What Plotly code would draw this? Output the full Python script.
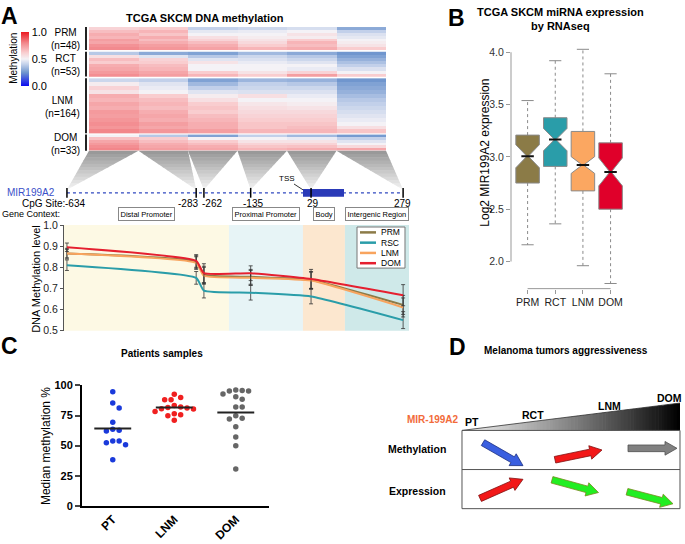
import math
import numpy as np
import plotly.graph_objects as go

W, H = 685, 544
FONT = "Liberation Sans, Arial, Helvetica, sans-serif"


def px(x):
    return x / W


def py(y):
    return 1 - y / H


# ======================= DATA =======================
# ---- Panel A: heatmap (bands read top -> bottom, one list per CpG column)
hm_groups = ["PRM", "RCT", "LNM", "DOM"]
hm_n = [48, 53, 164, 33]
cpg_sites = [-634, -283, -262, -135, 29, 279]
cpg_labels = ["-634", "-283", "-262", "-135", "29", "279"]

hm_PRM = [
    [0.60, 0.66, 0.70, 0.68, 0.74, 0.72, 0.77, 0.79],
    [0.62, 0.68, 0.64, 0.70, 0.66, 0.70, 0.74, 0.76],
    [0.40, 0.47, 0.50, 0.56, 0.60, 0.66, 0.70, 0.73],
    [0.42, 0.48, 0.50, 0.52, 0.55, 0.58, 0.62, 0.68],
    [0.44, 0.50, 0.55, 0.52, 0.62, 0.68, 0.66, 0.70],
    [0.30, 0.40, 0.45, 0.47, 0.50, 0.52, 0.55, 0.62],
]
hm_RCT = [
    [0.38, 0.56, 0.66, 0.62, 0.70, 0.72, 0.75, 0.78],
    [0.30, 0.46, 0.60, 0.62, 0.66, 0.68, 0.72, 0.74],
    [0.28, 0.38, 0.46, 0.55, 0.50, 0.50, 0.62, 0.68],
    [0.34, 0.42, 0.45, 0.48, 0.50, 0.50, 0.55, 0.62],
    [0.30, 0.38, 0.42, 0.46, 0.50, 0.48, 0.60, 0.74],
    [0.25, 0.28, 0.32, 0.36, 0.40, 0.45, 0.50, 0.62],
]
hm_LNM = [
    [0.42, 0.52, 0.60, 0.55, 0.70, 0.68, 0.72, 0.70, 0.75, 0.74, 0.76, 0.78, 0.76, 0.80],
    [0.40, 0.46, 0.48, 0.50, 0.62, 0.66, 0.68, 0.66, 0.70, 0.72, 0.70, 0.74, 0.72, 0.76],
    [0.28, 0.34, 0.40, 0.46, 0.52, 0.56, 0.62, 0.64, 0.62, 0.66, 0.68, 0.70, 0.70, 0.74],
    [0.33, 0.40, 0.42, 0.45, 0.56, 0.50, 0.54, 0.56, 0.58, 0.60, 0.62, 0.64, 0.64, 0.68],
    [0.32, 0.38, 0.42, 0.45, 0.48, 0.50, 0.52, 0.55, 0.58, 0.60, 0.62, 0.64, 0.66, 0.68],
    [0.25, 0.28, 0.30, 0.32, 0.35, 0.38, 0.40, 0.42, 0.44, 0.46, 0.48, 0.50, 0.56, 0.64],
]
hm_DOM = [
    [0.50, 0.65, 0.72, 0.75, 0.78, 0.80],
    [0.38, 0.62, 0.66, 0.70, 0.72, 0.74],
    [0.28, 0.50, 0.62, 0.66, 0.70, 0.72],
    [0.40, 0.50, 0.55, 0.60, 0.64, 0.68],
    [0.34, 0.48, 0.55, 0.60, 0.65, 0.70],
    [0.26, 0.40, 0.46, 0.50, 0.58, 0.72],
]

# ---- Panel A: methylation profile lines
line_names = ["PRM", "RSC", "LNM", "DOM"]
meth_PRM = [0.865, 0.825, 0.765, 0.755, 0.740, 0.622]
meth_RSC = [0.810, 0.750, 0.690, 0.680, 0.662, 0.550]
meth_LNM = [0.865, 0.820, 0.760, 0.750, 0.737, 0.610]
meth_DOM = [0.895, 0.830, 0.772, 0.772, 0.745, 0.668]
sd_PRM = [0.025, 0.030, 0.040, 0.035, 0.040, 0.045]
sd_RSC = [0.025, 0.030, 0.035, 0.035, 0.035, 0.040]
sd_LNM = [0.020, 0.030, 0.040, 0.035, 0.040, 0.045]
sd_DOM = [0.020, 0.030, 0.045, 0.035, 0.045, 0.050]
regions = ["Distal Promoter", "Proximal Promoter", "Body", "Intergenic Region"]
region_edges = [-642, -194, 7, 121, 295]

# ---- Panel B: notched boxplots
box_groups = ["PRM", "RCT", "LNM", "DOM"]
box_lower = [2.16, 2.36, 1.96, 1.79]
box_q1 = [2.750, 2.909, 2.675, 2.500]
box_median = [3.006, 3.165, 2.922, 2.856]
box_q3 = [3.208, 3.374, 3.243, 3.134]
box_upper = [3.538, 3.919, 4.028, 3.794]
box_notch = [0.110, 0.107, 0.080, 0.133]

# ---- Panel C: patient samples
c_groups = ["PT", "LNM", "DOM"]
pt_vals = [94.8, 85.3, 81.2, 69.4, 63.5, 62.7, 62.1, 53.9, 53.9, 52.3, 50.7, 38.2]
lnm_vals = [92.6, 89.9, 88.0, 88.0, 83.3, 82.0, 81.7, 81.2, 80.7, 80.4, 78.4, 76.5, 75.7, 74.9, 71.1]
dom_vals = [96.2, 95.7, 95.3, 95.3, 92.9, 90.7, 88.6, 82.0, 82.0, 74.9, 72.8, 72.2, 65.7, 57.2, 49.8, 30.5]
c_medians = [64.3, 81.7, 77.6]

# ---- Panel D labels
stages = ["PT", "RCT", "LNM", "DOM"]

# ======================= FIGURE =======================
fig = go.Figure()
shapes = []
annotations = []


def text(x, y, s, size=10, color="black", xanchor="center", yanchor="middle", angle=0, **kw):
    annotations.append(dict(x=px(x), y=py(y), xref="paper", yref="paper", text=s, showarrow=False,
                            font=dict(family=FONT, size=size, color=color), xanchor=xanchor,
                            yanchor=yanchor, textangle=angle, **kw))


def line(x0, y0, x1, y1, color="black", width=1, dash=None, layer="above"):
    ln = dict(color=color, width=width)
    if dash:
        ln["dash"] = dash
    shapes.append(dict(type="line", xref="paper", yref="paper", x0=px(x0), y0=py(y0),
                       x1=px(x1), y1=py(y1), line=ln, layer=layer))


def poly(pts, fill, lc=None, lw=0, layer="above"):
    path = "M " + " L ".join(f"{px(x):.5f},{py(y):.5f}" for x, y in pts) + " Z"
    shapes.append(dict(type="path", xref="paper", yref="paper", path=path, fillcolor=fill,
                       line=dict(color=lc or fill, width=lw), layer=layer))


# ---------- Panel A heatmap ----------
hm_colorscale = [[0.0, "#0A0AF0"], [0.25, "#7096CE"], [0.4, "#C2D0EA"], [0.5, "#F4F2F6"],
                 [0.62, "#F9CDCF"], [0.8, "#F2868A"], [1.0, "#EC1A22"]]
hm_data = {"PRM": hm_PRM, "RCT": hm_RCT, "LNM": hm_LNM, "DOM": hm_DOM}
hm_spans = [(21.5, 45.0), (46.8, 72.0), (74.0, 130.0), (131.5, 148.0)]  # pixel rows of groups
for gi, g in enumerate(hm_groups):
    z = np.array(hm_data[g]).T
    top, bot = hm_spans[gi]
    dy = (bot - top) / z.shape[0]
    fig.add_trace(go.Heatmap(
        z=z, x0=0, dx=1, y0=top + dy / 2, dy=dy, xaxis="x", yaxis="y",
        colorscale=hm_colorscale, zmin=0, zmax=1, showscale=(gi == 0), hoverinfo="skip",
        colorbar=dict(x=px(21), xanchor="left", y=py(54), yanchor="middle", thickness=8,
                      len=54, lenmode="pixels", tickvals=[0, 0.5, 1], ticktext=["0.0", "0.5", "1.0"],
                      ticks="", outlinewidth=0, xpad=0, ypad=0,
                      tickfont=dict(family=FONT, size=11, color="black")),
    ))
    # group label + bar
    text(82, (top + bot) / 2 + 1, f"{g}<br>(n={hm_n[gi]})", size=10, xanchor="right")
    line(86, top, 86, bot, color="#222", width=2)

text(205, 12, "<b>TCGA SKCM DNA methylation</b>", size=11)
text(14, 54, "Methylation", size=10, angle=-90)

# ---------- Panel A line chart ----------
LX0, LX1 = 64, 409


def site_px(s):
    return LX0 + (s - region_edges[0]) * (LX1 - LX0) / (region_edges[-1] - region_edges[0])


region_colors = ["#FDF9E4", "#E7F4F6", "#FCE7CF", "#CFE9E9"]
for i in range(len(regions)):
    shapes.append(dict(type="rect", xref="x2", yref="y2 domain", x0=region_edges[i],
                       x1=region_edges[i + 1], y0=0, y1=1, fillcolor=region_colors[i],
                       line=dict(width=0), layer="below"))

line_colors = ["#8C7B48", "#2A9DA9", "#F8A45E", "#E51F2F"]
line_vals = [meth_PRM, meth_RSC, meth_LNM, meth_DOM]
line_sds = [sd_PRM, sd_RSC, sd_LNM, sd_DOM]
for name, vals, sd, col in zip(line_names, line_vals, line_sds, line_colors):
    fig.add_trace(go.Scatter(
        x=cpg_sites, y=vals, mode="lines", name=name, xaxis="x2", yaxis="y2",
        line=dict(color=col, width=2, shape="spline", smoothing=0.45),
        error_y=dict(type="data", array=sd, color="#333", thickness=0.8, width=2),
        showlegend=False, hoverinfo="skip"))

# custom legend
poly([(357, 226), (405, 226), (405, 268), (357, 268)], "white", lc="#777", lw=1)
for i, (name, col) in enumerate(zip(line_names, line_colors)):
    yy = 231.5 + i * 10.5
    line(360, yy, 376, yy, color=col, width=2.5)
    text(379, yy, name, size=8.5, xanchor="left")

text(36, 279, "DNA Methylation level", size=11, angle=-90)

# ---------- gene diagram ----------
GENE_Y = 191
HM_X0, HM_X1, HM_BOT = 89, 386, 148
col_edges = [HM_X0 + k * (HM_X1 - HM_X0) / 6 for k in range(7)]
TIP_Y = 188
n_sl = 12
for i, s in enumerate(cpg_sites):
    p = site_px(s)
    xa, xb = col_edges[i], col_edges[i + 1]
    for k in range(n_sl):
        t0, t1 = k / n_sl, min(1, (k + 1.15) / n_sl)
        ya, yb = HM_BOT + (TIP_Y - HM_BOT) * t0, HM_BOT + (TIP_Y - HM_BOT) * t1
        lvl = int(150 + (245 - 150) * (k + 0.5) / n_sl)
        c = f"rgb({lvl},{lvl},{lvl})"
        poly([(xa + (p - xa) * t0, ya), (xb + (p - xb) * t0, ya),
              (xb + (p - xb) * t1, yb), (xa + (p - xa) * t1, yb)], c)

line(site_px(cpg_sites[0]), GENE_Y, site_px(cpg_sites[-1]), GENE_Y, color="#3048C0", width=1.2, dash="dot")
poly([(303, 187), (344, 187), (344, 195), (303, 195)], "#2A3AB8")
for s in cpg_sites:
    line(site_px(s), 186, site_px(s), 196, color="black", width=1.5)
text(57, GENE_Y, "MIR199A2", size=10, color="#3A50C8", xanchor="right")
text(287, 176, "TSS", size=8)
line(294, 182, 303, 188, color="black", width=0.8)
text(67, 201.5, "CpG Site:", size=10, xanchor="right")
label_shift = [8, -8, 8, 2, 2, -1]
for s, lab, sh in zip(cpg_sites, cpg_labels, label_shift):
    text(site_px(s) + sh, 201.5, lab, size=10)
text(0, 212.5, "Gene Context:", size=9, xanchor="left")
for i, r in enumerate(regions):
    cx = (site_px(region_edges[i]) + site_px(region_edges[i + 1])) / 2
    text(cx, 212.5, r, size=7.5, bordercolor="#888", borderwidth=1, borderpad=1.5, bgcolor="white")

# ---------- Panel B boxplots ----------
box_colors = ["#8B7B47", "#2A9DA9", "#FBA761", "#E0002A"]
BW, NW = 0.85, 0.47
for i, g in enumerate(box_groups):
    fig.add_trace(go.Box(
        x=[i], q1=[box_q1[i]], median=[box_median[i]], q3=[box_q3[i]],
        lowerfence=[box_q1[i]], upperfence=[box_q3[i]], notchspan=[box_notch[i]],
        notched=True, notchwidth=NW, width=BW, fillcolor=box_colors[i],
        line=dict(color="#8a8a8a", width=1), whiskerwidth=0, boxpoints=False,
        xaxis="x3", yaxis="y3", showlegend=False, hoverinfo="skip"))
wx, wy, sx, sy, mx, my = [], [], [], [], [], []
for i in range(len(box_groups)):
    wx += [i, i, None, i, i, None]
    wy += [box_q3[i], box_upper[i], None, box_q1[i], box_lower[i], None]
    sx += [i - 0.22, i + 0.22, None, i - 0.22, i + 0.22, None]
    sy += [box_upper[i], box_upper[i], None, box_lower[i], box_lower[i], None]
    hw = BW / 2 * (1 - NW)
    mx += [i - hw, i + hw, None]
    my += [box_median[i], box_median[i], None]
fig.add_trace(go.Scatter(x=wx, y=wy, mode="lines", line=dict(color="#8a8a8a", width=1, dash="dot"),
                         xaxis="x3", yaxis="y3", showlegend=False, hoverinfo="skip"))
fig.add_trace(go.Scatter(x=sx, y=sy, mode="lines", line=dict(color="#8a8a8a", width=1),
                         xaxis="x3", yaxis="y3", showlegend=False, hoverinfo="skip"))
fig.add_trace(go.Scatter(x=mx, y=my, mode="lines", line=dict(color="#111", width=2),
                         xaxis="x3", yaxis="y3", showlegend=False, hoverinfo="skip"))
shapes.append(dict(type="line", xref="x3 domain", yref="y3", x0=0, x1=0, y0=2.0, y1=4.0,
                   line=dict(color="#999", width=1)))
shapes.append(dict(type="line", xref="x3", yref="y3 domain", x0=0, x1=len(box_groups) - 1, y0=0, y1=0,
                   line=dict(color="#999", width=1)))
text(456, 12, "<b>B</b>", size=23)
text(560, 13, "<b>TCGA SKCM miRNA expression<br>by RNAseq</b>", size=11)
text(485, 150, "Log2 MIR199A2 expression", size=12, angle=-90)

# ---------- Panel C ----------
C_X0, C_X1, C_Y0, C_Y1 = 82, 269, 388, 511
c_range = [0.5, 3.54]
c_colors = ["#1A3ADB", "#F02020", "#666666"]
kx = (C_X1 - C_X0) / (c_range[1] - c_range[0])  # px per x unit
ky = (C_Y1 - C_Y0) / 100.0  # px per y unit


def swarm(vals, d=6.4):
    placed, offs = [], []
    h = d / 2
    cands = [0.0]
    for k in range(1, 12):
        cands += [k * h, -k * h]
    for v in sorted(vals, reverse=True):
        yv = v * ky
        for c in cands:
            if all(math.hypot(c - ox, yv - oy) >= d for ox, oy in placed):
                placed.append((c, yv))
                offs.append((c / kx, v))
                break
    return offs


for gi, (vals, col) in enumerate(zip([pt_vals, lnm_vals, dom_vals], c_colors)):
    pts = swarm(vals)
    fig.add_trace(go.Scatter(x=[gi + 1 + o for o, _ in pts], y=[v for _, v in pts], mode="markers",
                             marker=dict(size=5.5, color=col), xaxis="x4", yaxis="y4",
                             showlegend=False, hoverinfo="skip", cliponaxis=False))
    fig.add_trace(go.Scatter(x=[gi + 1 - 0.3, gi + 1 + 0.3], y=[c_medians[gi]] * 2, mode="lines",
                             line=dict(color="#222", width=2), xaxis="x4", yaxis="y4",
                             showlegend=False, hoverinfo="skip"))
text(9, 348, "<b>C</b>", size=23)
text(162, 355, "<b>Patients samples</b>", size=10)
text(46, 450, "Median methylation %", size=12, angle=-90)

# ---------- Panel D ----------
text(457, 349, "<b>D</b>", size=23)
text(566, 352, "<b>Melanoma tumors aggressiveness</b>", size=10)
TX0, TX1, TY_TOP, TY_BOT = 462, 680, 406, 434
n_st = 70
for k in range(n_st):
    xa = TX0 + (TX1 - TX0) * k / n_st
    xb = TX0 + (TX1 - TX0) * min(1, (k + 1.2) / n_st)
    t = (k + 0.5) / n_st
    lvl = int(238 * (1 - t ** 1.15))
    c = f"rgb({lvl},{lvl},{lvl})"
    ya = TY_BOT - (TY_BOT - TY_TOP) * (xa - TX0) / (TX1 - TX0)
    yb = TY_BOT - (TY_BOT - TY_TOP) * (xb - TX0) / (TX1 - TX0)
    poly([(xa, ya), (xb, yb), (xb, TY_BOT), (xa, TY_BOT)], c)
line(TX0, TY_BOT, TX1, TY_TOP, color="#333", width=0.8)
# table box
poly([(462, 434), (680, 434), (680, 514), (462, 514)], "rgba(0,0,0,0)", lc="#555", lw=1)
line(462, 474, 680, 474, color="#555", width=1)
text(433, 423, "<b>MIR-199A2</b>", size=10, color="#F26B3A")
stage_pos = [(472, 425), (533, 418), (609, 409), (669, 401)]
for s, (x, y) in zip(stages, stage_pos):
    text(x, y, f"<b>{s}</b>", size=10.5)
text(417, 453, "<b>Methylation</b>", size=10.5)
text(417, 496, "<b>Expression</b>", size=10.5)


def block_arrow(x0, y0, x1, y1, fill, edge, sw=3.4, hw=7.0, hl=12.0):
    dx, dy = x1 - x0, y1 - y0
    L = math.hypot(dx, dy)
    ux, uy = dx / L, dy / L
    nx, ny = -uy, ux
    bx, by = x1 - ux * hl, y1 - uy * hl
    pts = [(x0 + nx * sw, y0 + ny * sw), (bx + nx * sw, by + ny * sw), (bx + nx * hw, by + ny * hw),
           (x1, y1), (bx - nx * hw, by - ny * hw), (bx - nx * sw, by - ny * sw),
           (x0 - nx * sw, y0 - ny * sw)]
    poly(pts, fill, lc=edge, lw=0.8)


block_arrow(483, 446.5, 523, 470, "#3A5FE0", "#1a2f80")
block_arrow(555, 464, 602, 454, "#F21818", "#801010")
block_arrow(628, 452.3, 677, 452.3, "#808080", "#505050")
block_arrow(480, 503.5, 523, 484, "#F21818", "#801010")
block_arrow(552, 484.5, 598.5, 497.5, "#22EE22", "#7a8a20")
block_arrow(627, 496.7, 673, 509, "#22EE22", "#7a8a20")

text(9, 10, "<b>A</b>", size=23)

# ======================= LAYOUT =======================
hidden = dict(visible=False, showgrid=False, zeroline=False, fixedrange=True)
fig.update_layout(
    width=W, height=H, margin=dict(l=0, r=0, t=0, b=0),
    paper_bgcolor="white", plot_bgcolor="rgba(0,0,0,0)", showlegend=False,
    font=dict(family=FONT, color="black"),
    xaxis=dict(domain=[px(HM_X0), px(HM_X1)], range=[-0.5, 5.5], **hidden),
    yaxis=dict(domain=[py(148), py(21.5)], range=[148, 21.5], **hidden),
    xaxis2=dict(domain=[px(LX0), px(LX1)], range=[region_edges[0], region_edges[-1]], **hidden),
    yaxis2=dict(domain=[py(332), py(224)], range=[0.5, 1.0], anchor="x2", showline=True,
                linecolor="#555", linewidth=1, ticks="outside", ticklen=3, tickcolor="#555",
                tickvals=[0.5, 0.6, 0.7, 0.8, 0.9, 1.0], ticktext=["0.5", "0.6", "0.7", "0.8", "0.9", "1.0"],
                tickfont=dict(family=FONT, size=10.5, color="#222"), showgrid=False, zeroline=False),
    xaxis3=dict(domain=[px(511), px(628)], range=[-0.6, 3.63], anchor="y3", tickvals=[0, 1, 2, 3],
                ticktext=box_groups, ticks="outside", ticklen=4, tickcolor="#999", showline=False,
                showgrid=False, zeroline=False, tickfont=dict(family=FONT, size=10.5, color="#222")),
    yaxis3=dict(domain=[py(289), py(40)], range=[1.741, 4.068], anchor="x3",
                tickvals=[2.0, 2.5, 3.0, 3.5, 4.0], ticktext=["2.0", "2.5", "3.0", "3.5", "4.0"],
                ticks="outside", ticklen=4, tickcolor="#999", showline=False, showgrid=False,
                zeroline=False, tickfont=dict(family=FONT, size=10.5, color="#333")),
    xaxis4=dict(domain=[px(C_X0), px(C_X1)], range=c_range, anchor="y4", tickvals=[1, 2, 3],
                ticktext=[f"<b>{g}</b>" for g in c_groups], tickangle=-45, ticks="",
                showline=True, linecolor="black", linewidth=2, showgrid=False, zeroline=False,
                tickfont=dict(family=FONT, size=12, color="black")),
    yaxis4=dict(domain=[py(C_Y1), py(C_Y0)], range=[0, 100], anchor="x4", tickvals=[0, 25, 50, 75, 100],
                ticktext=[f"<b>{v}</b>" for v in [0, 25, 50, 75, 100]], ticks="outside", ticklen=5,
                tickwidth=2, showline=True, linecolor="black", linewidth=2, showgrid=False,
                zeroline=False, tickfont=dict(family=FONT, size=11, color="black")),
    shapes=shapes, annotations=annotations,
)

fig.write_html("out.html", config={"displayModeBar": False},
               post_script="document.body.style.margin='0px';document.body.style.overflow='hidden';")
